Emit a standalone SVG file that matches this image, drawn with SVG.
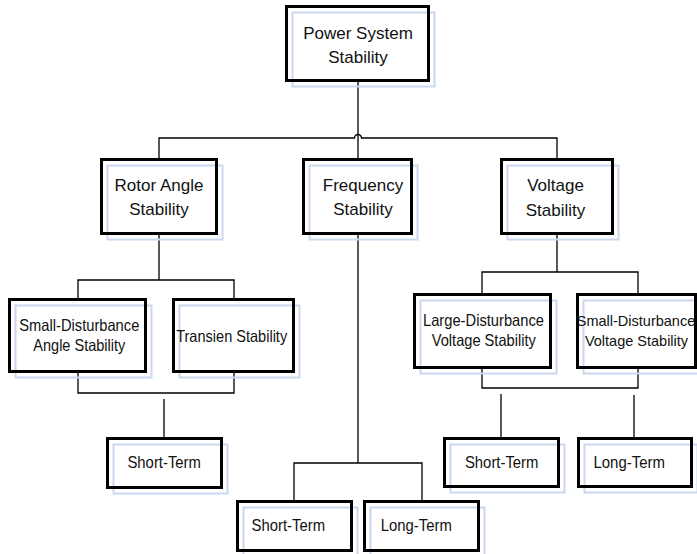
<svg xmlns="http://www.w3.org/2000/svg" width="697" height="554" viewBox="0 0 697 554">
<style>
.sh{fill:none;stroke:#cbd8ee;stroke-width:2}
.bx{fill:none;stroke:#000;stroke-width:3}
.t1{font-family:"Liberation Sans",Arial,sans-serif;font-size:17px;fill:#111;text-anchor:middle}
.t2{font-family:"Liberation Sans",Arial,sans-serif;font-size:16.5px;fill:#111;text-anchor:middle}
.t3{font-family:"Liberation Sans",Arial,sans-serif;font-size:14.5px;fill:#111;text-anchor:middle}
.cn{fill:none;stroke:#000;stroke-width:1.3}
</style>
<rect width="697" height="554" fill="#fff"/>
<g id="connectors">
<path class="cn" d="M358,82 V158"/>
<path class="cn" d="M159,158 V138 H354.5 A3.5,3.5 0 0 1 361.5,138 H557 V158"/>
<path class="cn" d="M159,235 V280 M78,298 V280 H234 V298"/>
<path class="cn" d="M78,373 V393 H234 V373 M164,399 V437"/>
<path class="cn" d="M557,235 V272 M482,293 V272 H638 V293"/>
<path class="cn" d="M482,369 V388 H638 V369 M501,394 V437 M634,395 V437"/>
<path class="cn" d="M358,235 V463 M294,500 V463 H422 V500"/>
</g>
<g id="power-system-stability">
<rect class="sh" x="292.5" y="12.5" width="142" height="74"/>
<rect class="bx" x="286.5" y="6.5" width="142" height="74"/>
<text class="t1" x="358" y="39" font-size="17.5">Power System</text>
<text class="t1" x="358" y="63" font-size="17.5">Stability</text>
</g>
<g id="rotor-angle-stability">
<rect class="sh" x="107.5" y="165.5" width="115" height="74"/>
<rect class="bx" x="101.5" y="159.5" width="115" height="74"/>
<text class="t1" x="159" y="190.5">Rotor Angle</text>
<text class="t1" x="159" y="215">Stability</text>
</g>
<g id="frequency-stability">
<rect class="sh" x="309.5" y="165.5" width="108" height="74"/>
<rect class="bx" x="303.5" y="159.5" width="108" height="74"/>
<text class="t1" x="363" y="190.5">Frequency</text>
<text class="t1" x="363" y="215">Stability</text>
</g>
<g id="voltage-stability">
<rect class="sh" x="507.5" y="165.5" width="111" height="74"/>
<rect class="bx" x="501.5" y="159.5" width="111" height="74"/>
<text class="t1" x="555.5" y="190.5">Voltage</text>
<text class="t1" x="555.5" y="215.5">Stability</text>
</g>
<g id="small-disturbance-angle-stability">
<rect class="sh" x="15.5" y="305.5" width="136" height="72"/>
<rect class="bx" x="9.5" y="299.5" width="136" height="72"/>
<text class="t2" x="79.3" y="331" textLength="120" lengthAdjust="spacingAndGlyphs">Small-Disturbance</text>
<text class="t2" x="79.3" y="351" textLength="92" lengthAdjust="spacingAndGlyphs">Angle Stability</text>
</g>
<g id="transien-stability">
<rect class="sh" x="179.5" y="305.5" width="120" height="72"/>
<rect class="bx" x="173.5" y="299.5" width="120" height="72"/>
<text class="t2" x="231.7" y="341.5" textLength="111" lengthAdjust="spacingAndGlyphs">Transien Stability</text>
</g>
<g id="large-disturbance-voltage-stability">
<rect class="sh" x="420.5" y="300.5" width="136" height="73"/>
<rect class="bx" x="414.5" y="294.5" width="136" height="73"/>
<text class="t2" x="483.5" y="325.7" textLength="121" lengthAdjust="spacingAndGlyphs">Large-Disturbance</text>
<text class="t2" x="483.8" y="345.7" textLength="104" lengthAdjust="spacingAndGlyphs">Voltage Stability</text>
</g>
<g id="small-disturbance-voltage-stability">
<rect class="sh" x="583.5" y="300.5" width="118" height="73"/>
<rect class="bx" x="577.5" y="294.5" width="118" height="73"/>
<text class="t3" x="636" y="325.7">Small-Disturbance</text>
<text class="t3" x="636.5" y="345.7">Voltage Stability</text>
</g>
<g id="rotor-short-term">
<rect class="sh" x="113.5" y="444.5" width="114" height="49"/>
<rect class="bx" x="107.5" y="438.5" width="114" height="49"/>
<text class="t2" x="164.2" y="468.3" textLength="73.5" lengthAdjust="spacingAndGlyphs">Short-Term</text>
</g>
<g id="frequency-short-term">
<rect class="sh" x="243.5" y="507.5" width="114" height="49"/>
<rect class="bx" x="237.5" y="501.5" width="114" height="49"/>
<text class="t2" x="288.3" y="530.7" textLength="73.5" lengthAdjust="spacingAndGlyphs">Short-Term</text>
</g>
<g id="frequency-long-term">
<rect class="sh" x="370.5" y="507.5" width="114" height="49"/>
<rect class="bx" x="364.5" y="501.5" width="114" height="49"/>
<text class="t2" x="416.3" y="530.7" textLength="71" lengthAdjust="spacingAndGlyphs">Long-Term</text>
</g>
<g id="voltage-short-term">
<rect class="sh" x="450.5" y="444.5" width="114" height="48"/>
<rect class="bx" x="444.5" y="438.5" width="114" height="48"/>
<text class="t2" x="501.7" y="468.3" textLength="73.5" lengthAdjust="spacingAndGlyphs">Short-Term</text>
</g>
<g id="voltage-long-term">
<rect class="sh" x="584.5" y="444.5" width="113" height="48"/>
<rect class="bx" x="578.5" y="438.5" width="113" height="48"/>
<text class="t2" x="629.2" y="468.3" textLength="71.5" lengthAdjust="spacingAndGlyphs">Long-Term</text>
</g>
</svg>
